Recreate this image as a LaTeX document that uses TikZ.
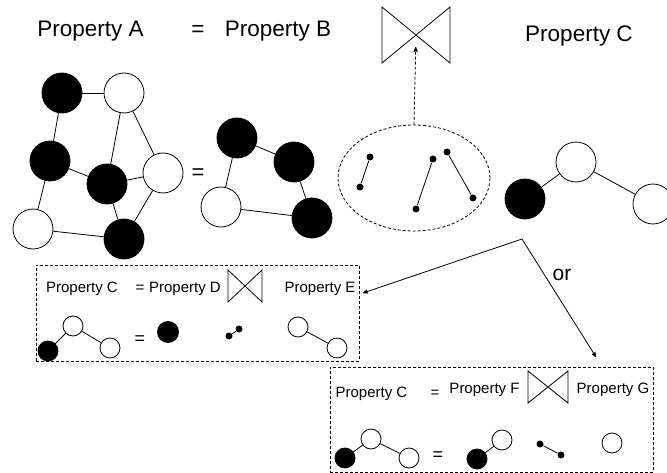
\documentclass[tikz,border=0pt]{standalone}
\usepackage{fontspec}
\setmainfont{Liberation Sans}
\usetikzlibrary{arrows,shapes.geometric}

\newcommand{\drawtie}[1]{\draw (#1.north west) -- (#1.south east) -- (#1.north east) -- (#1.south west) -- cycle;}

\begin{document}
\begin{tikzpicture}[x=1pt,y=-1pt,>=stealth',line width=0.8pt,
  blk/.style={shape=circle,draw=black,fill=black,minimum size=40,inner sep=0},
  wht/.style={shape=circle,draw=black,fill=white,minimum size=40,inner sep=0},
  sblk/.style={blk,minimum size=20},
  swht/.style={wht,minimum size=20},
  dot/.style={shape=circle,fill=black,minimum size=7,inner sep=0},
  tiebox/.style={shape=rectangle,inner sep=0,outer sep=0},
  frame/.style={draw=black,dash pattern=on 3pt off 2pt,inner sep=0},
  big/.style={font=\fontsize{22.5}{26}\selectfont,inner sep=0,anchor=base},
  small/.style={font=\fontsize{15}{18}\selectfont,inner sep=0,anchor=base}]
            \useasboundingbox (0,0) rectangle (667,473);
            % headings
            \node[big](propA)at(90.5, 37){Property A};
            \node[big](eqAB)at(198, 37){=};
            \node[big](propB)at(278, 37){Property B};
            \node[big](propC)at(579, 42){Property C};
            \node[tiebox,minimum width=68,minimum height=56](tieA)at(416, 35){};
            \drawtie{tieA}
            % graph A
            \node[blk](a1)at(62, 93){};
            \node[wht](a2)at(124, 93){};
            \node[blk](a3)at(50, 161){};
            \node[blk](a4)at(107, 184){};
            \node[wht](a5)at(163, 173){};
            \node[wht](a6)at(33, 229){};
            \node[blk](a7)at(124, 239){};
            \path[](a1) edge (a2)
            (a1) edge (a3)
            (a2) edge (a4)
            (a2) edge (a5)
            (a3) edge (a4)
            (a3) edge (a6)
            (a4) edge (a5)
            (a4) edge (a7)
            (a5) edge (a7)
            (a6) edge (a7);
            \node[font=\fontsize{22}{26}\selectfont](eqG)at(198, 174){=};
            % graph B
            \node[blk](b1)at(237, 138){};
            \node[blk](b2)at(294, 162){};
            \node[wht](b3)at(221, 207){};
            \node[blk](b4)at(312, 218){};
            \path[](b1) edge (b2)
            (b1) edge (b3)
            (b2) edge (b4)
            (b3) edge (b4);
            % pairs in the ellipse
            \node[frame,shape=ellipse,minimum width=152,minimum height=106](grp)at(414, 178){};
            \node[dot](d1)at(370, 157){};
            \node[dot](d2)at(360, 187){};
            \node[dot](d3)at(433, 159){};
            \node[dot](d4)at(416, 209){};
            \node[dot](d5)at(447, 152){};
            \node[dot](d6)at(473, 198){};
            \path[](d1) edge (d2)
            (d3) edge (d4)
            (d5) edge (d6);
            \draw[->,dash pattern=on 3pt off 2pt,shorten >=12pt](grp.north) -- (tieA.center);
            % graph C
            \node[blk](c1)at(525, 199){};
            \node[wht](c2)at(576, 162){};
            \node[wht](c3)at(653, 204){};
            \path[](c1) edge (c2)
            (c2) edge (c3);
            % the two cases
            \coordinate (fork) at (522, 239);
            \coordinate (toD) at (363, 293);
            \coordinate (toF) at (596, 357);
            \draw[<->](toD) -- (fork) -- (toF);
            \node[font=\fontsize{21}{25}\selectfont](or)at(562, 275){or};
            % box 1
            \node[frame,minimum width=323,minimum height=96](box1)at(197.5, 313){};
            \node[small](p1C)at(82, 292){Property C};
            \node[small](p1eq)at(140, 292){=};
            \node[small](p1D)at(185, 292){Property D};
            \node[small](p1E)at(320, 292){Property E};
            \node[tiebox,minimum width=34,minimum height=32](tieD)at(245, 286){};
            \drawtie{tieD}
            \node[sblk](e1)at(48, 351){};
            \node[swht](e2)at(73, 326){};
            \node[swht](e3)at(110, 348){};
            \node[font=\fontsize{18}{21}\selectfont](e4)at(140, 340){=};
            \node[sblk,minimum size=21](e5)at(168, 332){};
            \node[dot](e6)at(229, 336){};
            \node[dot](e7)at(239, 329){};
            \node[swht](e8)at(298, 327){};
            \node[swht](e9)at(337, 348){};
            \path[](e1) edge (e2)
            (e2) edge (e3)
            (e6) edge (e7)
            (e8) edge (e9);
            % box 2
            \node[frame,minimum width=323,minimum height=105](box2)at(491.5, 419.5){};
            \node[small](p2C)at(371.5, 397){Property C};
            \node[small](p2eq)at(435, 397){=};
            \node[small](p2F)at(484.5, 393){Property F};
            \node[small](p2G)at(613, 393){Property G};
            \node[tiebox,minimum width=40,minimum height=32](tieF)at(548, 387){};
            \drawtie{tieF}
            \node[sblk](f1)at(345, 458){};
            \node[swht](f2)at(371, 439){};
            \node[swht](f3)at(409, 458){};
            \node[font=\fontsize{18}{21}\selectfont](f4)at(438, 456){=};
            \node[sblk](f5)at(477, 459){};
            \node[swht](f6)at(502, 440){};
            \node[dot](f7)at(540, 444){};
            \node[dot](f8)at(561, 455){};
            \node[swht](f9)at(612, 443){};
            \path[](f1) edge (f2)
            (f2) edge (f3)
            (f5) edge (f6)
            (f7) edge (f8);
        \end{tikzpicture}
\end{document}
